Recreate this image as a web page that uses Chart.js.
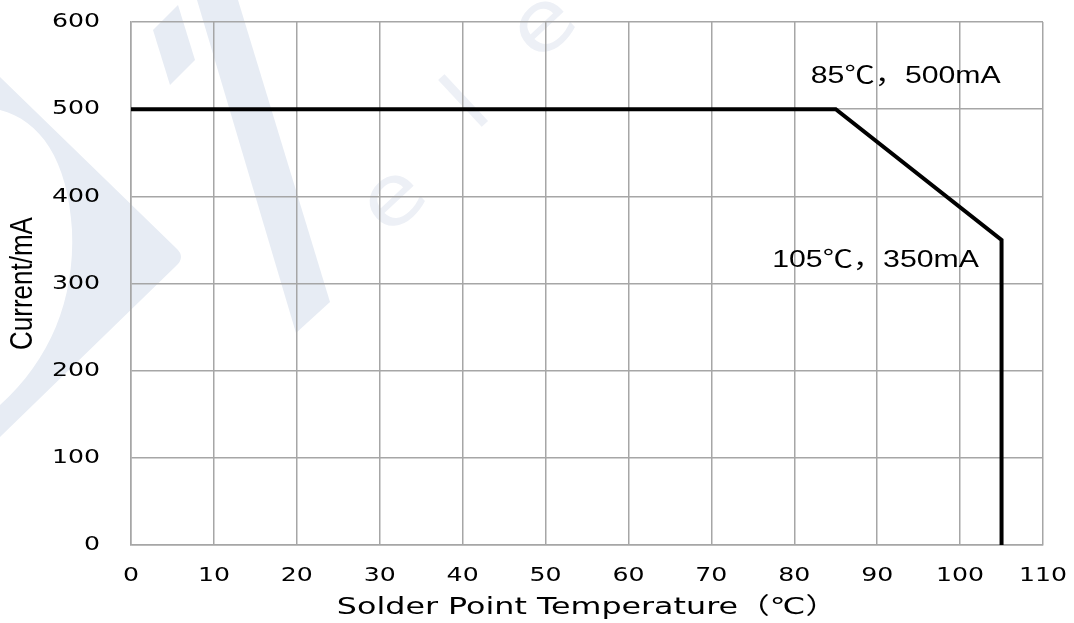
<!DOCTYPE html>
<html>
<head>
<meta charset="utf-8">
<script src="https://cdn.jsdelivr.net/npm/chart.js@4/dist/chart.umd.min.js"></script>
<style>
  html, body { margin: 0; padding: 0; background: #fff; overflow: hidden; }
  canvas { display: block; }
</style>
</head>
<body>
<canvas id="derating" width="1074" height="623"></canvas>
<script>
// curve points (temperature in C, current in mA)
const temps = [0, 85, 105, 105];
const currents = [500, 500, 350, 0];
const xTicks = [0, 10, 20, 30, 40, 50, 60, 70, 80, 90, 100, 110];
const yTicks = [0, 100, 200, 300, 400, 500, 600];
const notes = [
  { x: 85, y: 500, parts: ['85', '\u2103', '\uff0c500mA'] },
  { x: 105, y: 350, parts: ['105', '\u2103', '\uff0c350mA'] }
];

(() => {
  const wide = '"DejaVu Sans", "Noto Sans CJK SC", sans-serif';
  const arial = '"Liberation Sans", "Noto Sans CJK SC", sans-serif';
  const cjk = '"Noto Sans CJK SC", sans-serif';
  const gridColor = '#a6a6a6';
  const STRETCH = 1.26; // the source picture is stretched sideways

  // draw text stretched around its anchor point
  const stretchedFill = (c, sx, sy) => {
    const orig = c.fillText;
    c.fillText = function (t, x, y, mw) {
      this.save();
      this.translate(x, y);
      this.scale(sx, sy);
      if (mw === undefined) orig.call(this, t, 0, 0);
      else orig.call(this, t, 0, 0, mw / sx);
      this.restore();
    };
    return () => { delete c.fillText; };
  };

  // wrap one draw step of a scale so its text comes out stretched
  const stretchStep = (scale, name, sx, sy) => {
    const key = '_stretched_' + name;
    if (scale[key]) return;
    const orig = scale[name];
    scale[name] = function (...args) {
      const undo = stretchedFill(this.ctx, sx, sy);
      try { orig.apply(this, args); } finally { undo(); }
    };
    scale[key] = true;
  };

  // tick padding would otherwise push the plot area in; layout.padding sets it instead
  const noEdgePadding = (s) => {
    s.paddingTop = 0; s.paddingBottom = 0; s.paddingLeft = 0; s.paddingRight = 0;
  };

  // faint logo watermark behind the grid
  const watermark = {
    id: 'watermark',
    beforeDraw(chart) {
      const c = chart.ctx;
      c.save();
      c.fillStyle = '#e7ecf4';
      c.beginPath();
      c.moveTo(153, 30); c.lineTo(178, 5); c.lineTo(195, 60); c.lineTo(170, 85);
      c.closePath(); c.fill();
      c.beginPath();
      c.moveTo(197, 0); c.lineTo(238, 0); c.lineTo(330, 302); c.lineTo(296, 333);
      c.closePath(); c.fill();
      c.beginPath();
      c.moveTo(0, 77); c.lineTo(176, 248); c.quadraticCurveTo(186, 257, 176, 266);
      c.lineTo(0, 437); c.lineTo(0, 405);
      c.bezierCurveTo(50, 360, 75, 300, 72, 230);
      c.bezierCurveTo(68, 160, 40, 120, 0, 110);
      c.closePath(); c.fill();
      c.fillStyle = '#edf0f6';
      c.font = '84px "DejaVu Sans", sans-serif';
      c.textAlign = 'center';
      c.textBaseline = 'middle';
      [[545, 28, 'e'], [470, 108, 'l'], [395, 202, 'e']].forEach(([x, y, ch]) => {
        c.save();
        c.translate(x, y);
        c.rotate(-0.75);
        c.scale(1.15, 1);
        c.fillText(ch, 0, 0);
        c.restore();
      });
      c.restore();
    }
  };

  // the two corner notes; the degree sign comes from the CJK face
  const labels = {
    id: 'notes',
    afterDatasetsDraw(chart) {
      const c = chart.ctx;
      const xs = chart.scales.x, ys = chart.scales.y;
      const fonts = ['24px ' + arial, '24px ' + cjk, '24px ' + arial];
      const drawNote = (note, cx, cy) => {
        const widths = note.parts.map((p, i) => { c.font = fonts[i]; return c.measureText(p).width; });
        const total = widths.reduce((s, w) => s + w, 0);
        c.save();
        c.translate(cx, cy + 8);
        c.scale(STRETCH, 1);
        let x = -total / 2;
        note.parts.forEach((p, i) => {
          c.font = fonts[i];
          c.fillText(p, x, 0);
          x += widths[i];
        });
        c.restore();
      };
      c.save();
      c.fillStyle = '#000';
      c.textBaseline = 'alphabetic';
      c.textAlign = 'left';
      const a = notes[0], b = notes[1];
      drawNote(a, xs.getPixelForValue(a.x) + 70, ys.getPixelForValue(a.y) - 34);
      drawNote(b, xs.getPixelForValue(b.x) - 126, ys.getPixelForValue(b.y) + 19);
      c.restore();
    }
  };

  new Chart(document.getElementById('derating'), {
    type: 'line',
    data: {
      datasets: [{
        data: temps.map((t, i) => ({ x: t, y: currents[i] })),
        borderColor: '#000',
        borderWidth: 4,
        pointRadius: 0,
        tension: 0,
        fill: false
      }]
    },
    options: {
      responsive: false,
      animation: false,
      layout: { autoPadding: false, padding: { top: 22, right: 31, left: 0, bottom: 0 } },
      plugins: { legend: { display: false }, tooltip: { enabled: false } },
      scales: {
        x: {
          type: 'linear',
          min: 0, max: 110,
          afterBuildTicks: (s) => { s.ticks = xTicks.map(v => ({ value: v })); },
          afterFit: (s) => {
            s.height = 78;
            noEdgePadding(s);
            stretchStep(s, 'drawLabels', STRETCH, 1);
            stretchStep(s, 'drawTitle', 1.38, 1);
          },
          grid: { color: gridColor, lineWidth: 1.5, drawTicks: false },
          border: { color: gridColor, width: 1.5 },
          ticks: { color: '#000', font: { family: wide, size: 20 }, padding: 19, maxRotation: 0 },
          title: {
            display: true,
            text: 'Solder Point Temperature\uff08\u2103\uff09',
            color: '#000',
            font: { family: wide, size: 23 },
            padding: { top: 0, bottom: 1 }
          }
        },
        y: {
          min: 0, max: 600,
          afterBuildTicks: (s) => { s.ticks = yTicks.map(v => ({ value: v })); },
          afterFit: (s) => {
            s.width = 131;
            noEdgePadding(s);
            stretchStep(s, 'drawLabels', STRETCH, 1);
            // title is turned on its side, so its local y is the page's x
            stretchStep(s, 'drawTitle', 1, 1.2);
          },
          grid: { color: gridColor, lineWidth: 1.5, drawTicks: false },
          border: { color: gridColor, width: 1.5 },
          ticks: { color: '#000', font: { family: wide, size: 20 }, padding: 31 },
          title: {
            display: true,
            text: 'Current/mA',
            color: '#000',
            font: { family: arial, size: 26 },
            padding: { top: 8, bottom: 0 }
          }
        }
      }
    },
    plugins: [watermark, labels]
  });
})();
</script>
</body>
</html>
